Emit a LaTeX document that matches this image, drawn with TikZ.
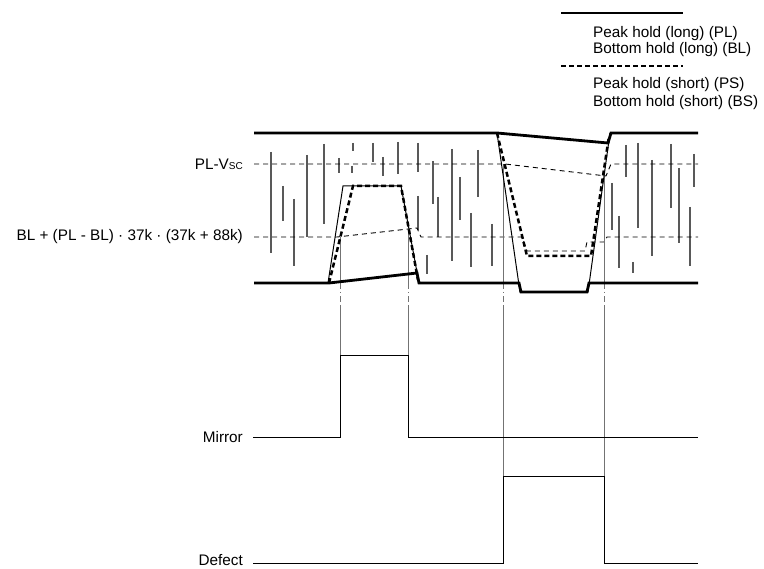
\documentclass[tikz,border=0pt]{standalone}
\usepackage{fontspec}
\setmainfont{Liberation Sans}
\usetikzlibrary{positioning}

\begin{document}
\begin{tikzpicture}[
  x=1pt, y=-1pt,
  font=\fontsize{15.3}{17}\selectfont,
  % hold curves (long = solid, short = dashed)
  longhold/.style={line width=2.8pt},
  shorthold/.style={line width=2.5pt, dash pattern=on 5pt off 3pt},
  signal/.style={line width=1pt},
  thresh/.style={line width=0.9pt, dash pattern=on 5pt off 4pt},
  noise/.style={line width=1.1pt, black!65},
  marker/.style={line width=1pt, black!55},
  markerdd/.style={marker, dash pattern=on 6pt off 3pt on 1.5pt off 3pt},
  pulse/.style={line width=0.9pt},
  lbl/.style={anchor=east, inner sep=0pt},
  legend/.style={anchor=base west, inner sep=0pt}
]

% Canvas
\useasboundingbox (0,0) rectangle (764,569);

% Legend
\coordinate (legA) at (561,13);
\coordinate (legB) at (683,13);
\coordinate (legC) at (561,66);
\coordinate (legD) at (683,66);
\draw[longhold] (legA) -- (legB);
\draw[shorthold] (legC) -- (legD);
\node[legend] (pl) at (593,38) {Peak hold (long) (PL)};
\node[legend] (bl) at (593,54) {Bottom hold (long) (BL)};
\node[legend] (ps) at (593,89) {Peak hold (short) (PS)};
\node[legend] (bs) at (593,107) {Bottom hold (short) (BS)};

% Level labels
\node[lbl] (vsc) at (243,164) {PL-V{\fontsize{10}{12}\selectfont SC}};
\node[lbl] (mid) at (243,237) {BL + (PL - BL) · 37k · (37k + 88k)};
\node[lbl] (mirror) at (243,437) {Mirror};
\node[lbl] (defect) at (243,560) {Defect};

% Noise
\foreach \x/\a/\b in {271/152/253, 283/186/221, 294/199/266, 307/155/237,
    324/144/224, 339/158/173, 353/143/151, 352/166/173, 373/143/162,
    383/157/176, 398/142/174, 418/143/172, 418/196/230, 427/255/274,
    433/161/204, 438/197/237, 452/149/261, 460/177/220, 471/213/267,
    478/150/197, 492/224/266, 612/183/230, 619/216/268, 626/145/177,
    633/262/273, 638/143/228, 652/160/256, 671/144/208, 679/168/243,
    690/207/266, 694/154/187}
  \draw[noise] (\x,\a) -- (\x,\b);

% Thresholds
\draw[thresh] (254,164) -- (505,164) -- (606,176) -- (611,164) -- (698,164);
\draw[thresh] (254,237) -- (337,237) -- (417,228) -- (421,237) -- (522,237)
  -- (527,251) -- (585,251) -- (587,242) -- (604,242) -- (607,237) -- (698,237);

% Timing markers
\foreach \x/\t/\b in {340/237/355, 408/229/355, 503/164/476, 604/176/476} {
  \draw[marker] (\x,\t) -- (\x,283) (\x,305) -- (\x,\b);
  \draw[markerdd] (\x,283) -- (\x,305);
}

% Signal
\draw[signal] (328,283) -- (343,186) -- (401,186) -- (419,283);
\draw[signal] (497,133) -- (520,292) -- (588,292) -- (610,133);

% Short holds
\draw[shorthold] (329,283) -- (353,186) -- (401,186) -- (418,280);
\draw[shorthold] (497,133) -- (527,256) -- (591,256) -- (609,136);

% Long holds
\draw[longhold] (254,133) -- (497,133) -- (608,143) -- (611,133) -- (698,133);
\draw[longhold] (254,283) -- (329,283) -- (417,273) -- (419,283) -- (519,283)
  -- (521,292) -- (587,292) -- (589,283) -- (698,283);

% Outputs
\draw[pulse] (253,437) -- (340,437) -- (340,355) -- (408,355) -- (408,437) -- (698,437);
\draw[pulse] (253,563) -- (503,563) -- (503,476) -- (604,476) -- (604,563) -- (698,563);

\end{tikzpicture}
\end{document}
